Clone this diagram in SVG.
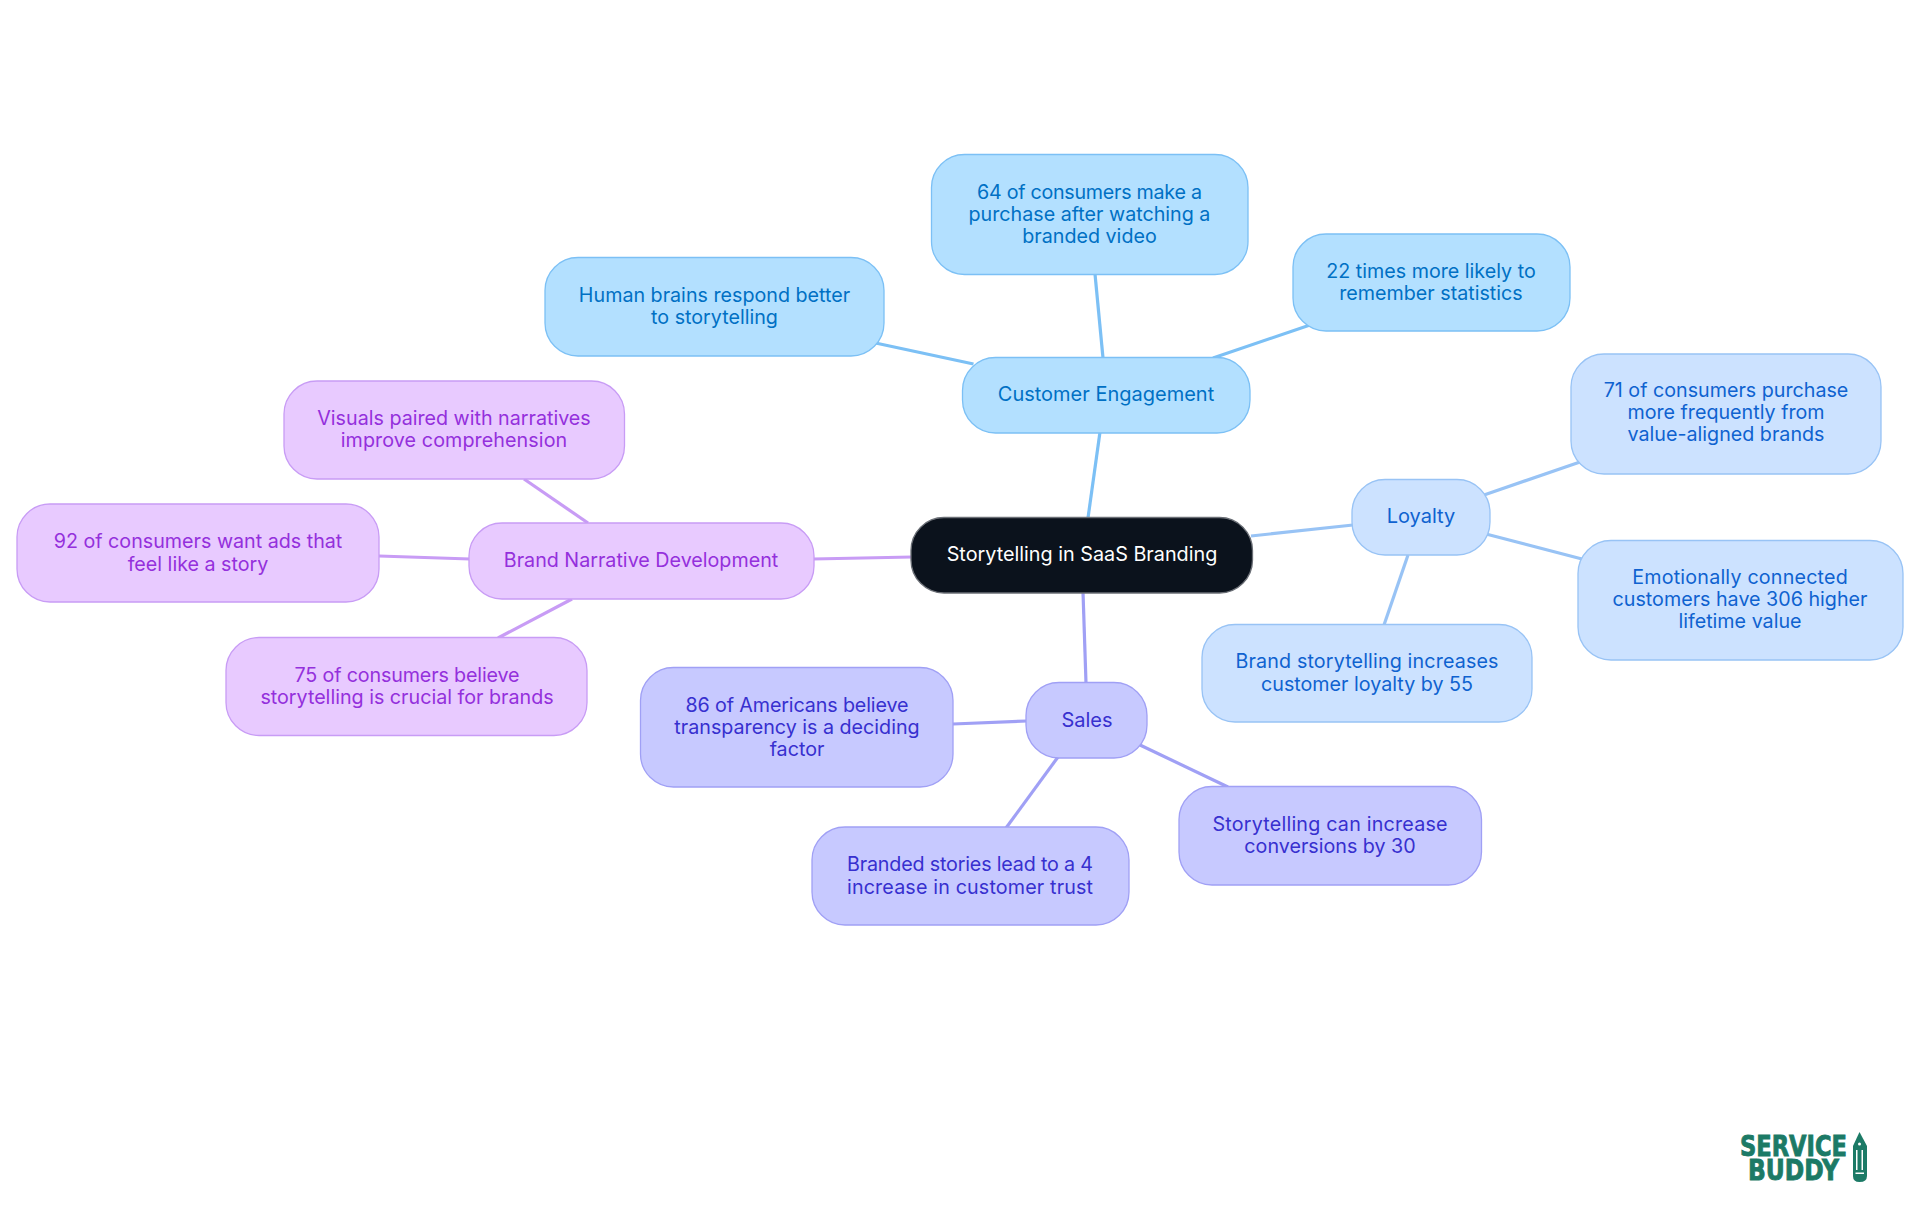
<svg xmlns="http://www.w3.org/2000/svg" width="1920" height="1215" viewBox="0 0 1920 1215">
<style>
text{font-family:"Inter","Noto Sans",sans-serif;font-size:19.7px;text-anchor:middle}
rect{stroke-width:1.3}
.e{fill:none;stroke-width:3.2}
.c rect{fill:#b3e0ff;stroke:#7cc0f5}.c text{fill:#0070c4}
.l rect{fill:#cce2ff;stroke:#98c3f5}.l text{fill:#0f62d0}
.s rect{fill:#c7c9ff;stroke:#a0a0f5}.s text{fill:#3730cf}
.p rect{fill:#e8caff;stroke:#c89cf5}.p text{fill:#9430dc}
.ec{stroke:#7cc0f5}.el{stroke:#98c3f5}.es{stroke:#a0a0f5}.ep{stroke:#c89cf5}
.logo{font-family:"DejaVu Sans",sans-serif;font-weight:700;font-size:29px;text-anchor:start;fill:#1c7a66;stroke:#1c7a66;stroke-width:.9}
</style>
<rect width="1920" height="1215" fill="#fff" stroke="none"/>
<g id="connectors">
<path class="e ec" d="M1088 518L1100 432"/>
<path class="e ec" d="M1103 358L1095 274"/>
<path class="e ec" d="M973.500 364L875.500 343"/>
<path class="e ec" d="M1213 358L1310 325"/>
<path class="e el" d="M1251 536L1353 525"/>
<path class="e el" d="M1484 495L1580 462"/>
<path class="e el" d="M1486 534L1582 559"/>
<path class="e el" d="M1408 555L1384 625"/>
<path class="e es" d="M1083 592L1086 683"/>
<path class="e es" d="M1027 721L953 724"/>
<path class="e es" d="M1058 757L1006 828"/>
<path class="e es" d="M1140 745L1228 787"/>
<path class="e ep" d="M912 557L813 559"/>
<path class="e ep" d="M470 559L379 556"/>
<path class="e ep" d="M588 523L524 479"/>
<path class="e ep" d="M572 599L498 638"/>
</g>
<g id="root"><rect x="911" y="517.500" width="341.500" height="75.500" rx="33" fill="#0b121c" stroke="#6b6f76"/><text x="1082" y="561" fill="#fff" style="font-size:19.800px">Storytelling in SaaS Branding</text></g>
<g id="customer-engagement" class="c"><rect x="962.500" y="357.500" width="287.500" height="75.500" rx="33"/><text x="1106" y="401" style="font-size:20px">Customer Engagement</text></g>
<g id="human-brains" class="c"><rect x="545" y="257.500" width="339" height="98.500" rx="33"/><text x="714.500" y="302">Human brains respond better</text><text x="714.500" y="324">to storytelling</text></g>
<g id="purchase" class="c"><rect x="931.500" y="154.500" width="316.500" height="120" rx="33"/><text x="1089.500" y="199" textLength="225">64 of consumers make a</text><text x="1089.500" y="221">purchase after watching a</text><text x="1089.500" y="243">branded video</text></g>
<g id="remember" class="c"><rect x="1293" y="234" width="277" height="97" rx="33"/><text x="1431" y="278">22 times more likely to</text><text x="1431" y="300">remember statistics</text></g>
<g id="loyalty" class="l"><rect x="1352" y="479.500" width="138" height="75.500" rx="33"/><text x="1421" y="523" style="font-size:20px">Loyalty</text></g>
<g id="value-aligned" class="l"><rect x="1571" y="354" width="310" height="120" rx="33"/><text x="1726" y="397">71 of consumers purchase</text><text x="1726" y="419">more frequently from</text><text x="1726" y="441">value-aligned brands</text></g>
<g id="lifetime" class="l"><rect x="1578" y="540.500" width="325" height="119.500" rx="33"/><text x="1740" y="584" textLength="215.500">Emotionally connected</text><text x="1740" y="606">customers have 306 higher</text><text x="1740" y="628">lifetime value</text></g>
<g id="customer-loyalty" class="l"><rect x="1202" y="624.500" width="330" height="97.500" rx="33"/><text x="1367" y="668" textLength="263">Brand storytelling increases</text><text x="1367" y="691">customer loyalty by 55</text></g>
<g id="sales" class="s"><rect x="1026" y="682.500" width="121" height="75.500" rx="33"/><text x="1087" y="727" style="font-size:20px">Sales</text></g>
<g id="transparency" class="s"><rect x="640.500" y="667.500" width="312.500" height="119.500" rx="33"/><text x="797" y="712" textLength="223">86 of Americans believe</text><text x="797" y="734">transparency is a deciding</text><text x="797" y="756">factor</text></g>
<g id="trust" class="s"><rect x="812" y="827" width="317" height="98" rx="33"/><text x="970" y="871" textLength="246">Branded stories lead to a 4</text><text x="970" y="894" textLength="246">increase in customer trust</text></g>
<g id="conversions" class="s"><rect x="1179" y="786.500" width="302.500" height="98.500" rx="33"/><text x="1330" y="831" textLength="235">Storytelling can increase</text><text x="1330" y="853">conversions by 30</text></g>
<g id="brand-narrative" class="p"><rect x="469" y="523" width="345" height="76" rx="33"/><text x="641" y="567">Brand Narrative Development</text></g>
<g id="visuals" class="p"><rect x="284" y="381" width="340.500" height="98" rx="33"/><text x="454" y="425">Visuals paired with narratives</text><text x="454" y="447" textLength="226.500">improve comprehension</text></g>
<g id="ads" class="p"><rect x="17" y="504" width="362" height="98" rx="33"/><text x="198" y="548">92 of consumers want ads that</text><text x="198" y="571">feel like a story</text></g>
<g id="crucial" class="p"><rect x="226" y="637.500" width="361" height="98" rx="33"/><text x="407" y="682" textLength="225">75 of consumers believe</text><text x="407" y="704">storytelling is crucial for brands</text></g>
<g id="logo">
<text class="logo" x="1740" y="1156" textLength="107" lengthAdjust="spacingAndGlyphs">SERVICE</text>
<text class="logo" x="1748" y="1180" textLength="91" lengthAdjust="spacingAndGlyphs">BUDDY</text>
<path fill="#1c7a66" d="M1859.500 1132L1867 1146V1176Q1867 1182 1859.500 1182Q1853 1182 1853 1176V1146Z"/>
<path fill="#fff" d="M1856 1150H1857.500V1170H1856ZM1861.500 1150H1863V1170H1861.500ZM1855.500 1172.500H1864V1174H1855.500Z"/>
<circle fill="#fff" cx="1859.500" cy="1144" r="1.500"/>
</g>
</svg>
